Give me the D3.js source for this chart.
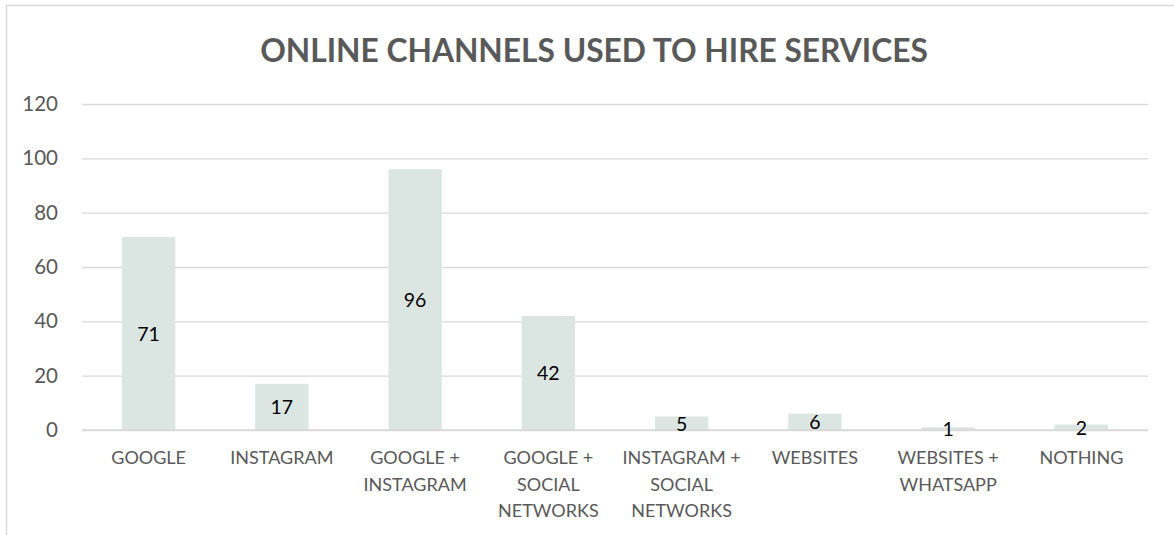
<!DOCTYPE html>
<html>
<head>
<meta charset="utf-8">
<script src="https://cdn.jsdelivr.net/npm/d3@7"></script>
<style>
  html, body { margin: 0; padding: 0; background: #fff; }
  svg { display: block; }
</style>
</head>
<body>
<svg id="chart" width="1174" height="535"></svg>
<script>
const title = "ONLINE CHANNELS USED TO HIRE SERVICES";
const categories = ["GOOGLE", "INSTAGRAM", "GOOGLE + INSTAGRAM", "GOOGLE + SOCIAL NETWORKS",
  "INSTAGRAM + SOCIAL NETWORKS", "WEBSITES", "WEBSITES + WHATSAPP", "NOTHING"];
const tickLabelLines = [["GOOGLE"], ["INSTAGRAM"], ["GOOGLE +", "INSTAGRAM"], ["GOOGLE +", "SOCIAL", "NETWORKS"],
  ["INSTAGRAM +", "SOCIAL", "NETWORKS"], ["WEBSITES"], ["WEBSITES +", "WHATSAPP"], ["NOTHING"]];
const values = [71, 17, 96, 42, 5, 6, 1, 2];
const yTicks = [0, 20, 40, 60, 80, 100, 120];

(function () {
const svg = d3.select("#chart");
const font = "Lato, 'Open Sans', sans-serif";
const pLeft = 82, pRight = 1148, pTop = 104, pBottom = 430;

// outer border
svg.append("path")
  .attr("d", "M6.5,535 L6.5,5.5 L1174,5.5")
  .attr("fill", "none").attr("stroke", "#d9d9d9").attr("stroke-width", 1.5);

const x = d3.scaleBand().domain(categories).range([pLeft, pRight]).paddingInner(0.6).paddingOuter(0.3);
const y = d3.scaleLinear().domain([0, 120]).range([pBottom, pTop]);

// gridlines
const yAxis = d3.axisLeft(y).tickValues(yTicks).tickSize(-(pRight - pLeft)).tickPadding(24);
const gy = svg.append("g").attr("transform", `translate(${pLeft},0)`).call(yAxis);
gy.select(".domain").remove();
gy.selectAll(".tick line").attr("stroke", "#d9d9d9").attr("stroke-width", 1.4);
gy.selectAll(".tick text").attr("fill", "#595959").attr("font-family", font).attr("font-size", 20.5);

// bars
svg.append("g").selectAll("rect").data(values).join("rect")
  .attr("x", (d, i) => x(categories[i]))
  .attr("width", x.bandwidth())
  .attr("y", d => y(d))
  .attr("height", d => y(0) - y(d))
  .attr("fill", "#dbe6e3");

// baseline on top
svg.append("line").attr("x1", pLeft).attr("x2", pRight).attr("y1", y(0)).attr("y2", y(0))
  .attr("stroke", "#d9d9d9").attr("stroke-width", 1.4);

// value labels
svg.append("g").selectAll("text").data(values).join("text")
  .attr("x", (d, i) => x(categories[i]) + x.bandwidth() / 2)
  .attr("y", d => (y(d) + y(0)) / 2)
  .attr("text-anchor", "middle").attr("dominant-baseline", "central")
  .attr("font-family", font).attr("font-size", 19.5).attr("fill", "#000")
  .text(d => d);

// x axis labels
const xl = svg.append("g").selectAll("text").data(categories).join("text")
  .attr("x", d => x(d) + x.bandwidth() / 2)
  .attr("y", 464)
  .attr("text-anchor", "middle")
  .attr("font-family", font).attr("font-size", 18).attr("fill", "#595959");
xl.each(function(d, i) {
  const t = d3.select(this);
  tickLabelLines[i].forEach((line, j) => {
    t.append("tspan").attr("x", x(d) + x.bandwidth() / 2).attr("dy", j === 0 ? 0 : 26.5).text(line);
  });
});

// title
const tt = svg.append("text").attr("x", 594).attr("y", 62).attr("text-anchor", "middle")
  .attr("font-family", font).attr("font-weight", "bold").attr("font-size", 30).attr("fill", "#595959")
  .text(title);
const w = tt.node().getComputedTextLength();
tt.attr("font-size", 30 * 668 / w);
})();
</script>
</body>
</html>
